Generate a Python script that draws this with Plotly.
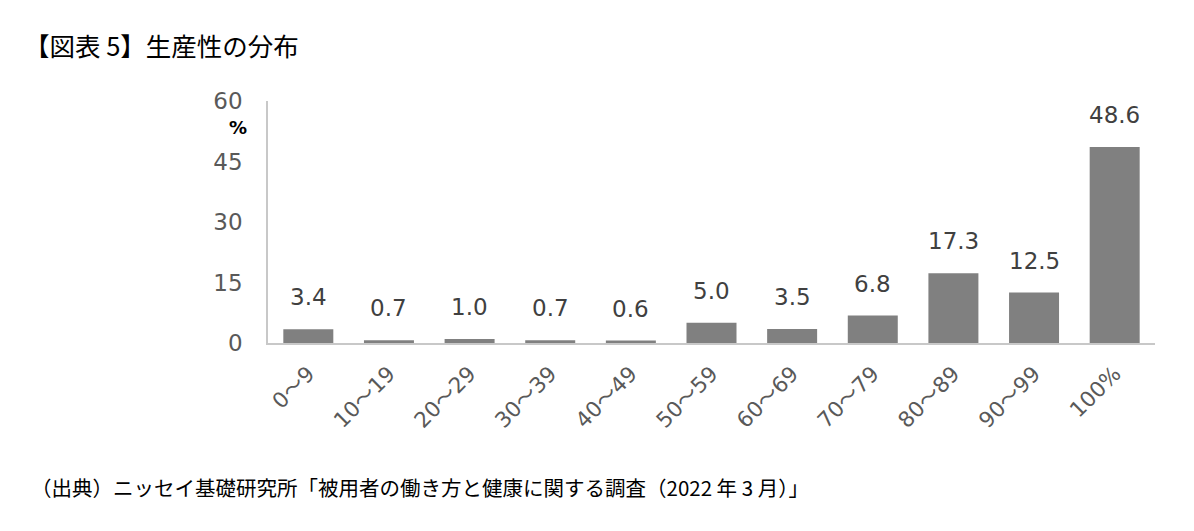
import plotly.graph_objects as go

categories = ["0～9", "10～19", "20～29", "30～39", "40～49", "50～59",
              "60～69", "70～79", "80～89", "90～99", "100%"]
values = [3.4, 0.7, 1.0, 0.7, 0.6, 5.0, 3.5, 6.8, 17.3, 12.5, 48.6]
y_ticks = [0, 15, 30, 45, 60]

title_text = "【図表 5】生産性の分布"
source_text = "（出典）ニッセイ基礎研究所「被用者の働き方と健康に関する調査（2022 年 3 月）」"

CJK = "Noto Sans CJK JP"
NUM = "DejaVu Sans, Noto Sans CJK JP"

# plot area: 887 x 242 px
PW, PH = 887.0, 242.0

fig = go.Figure(go.Bar(
    x=categories, y=values,
    marker=dict(color="#808080", line=dict(width=0)),
    hoverinfo="x+y",
))

label_annotations = [
    dict(x=c, y=v, xref="x", yref="y", text=f"{v:.1f}", showarrow=False,
         xanchor="center", yanchor="bottom", yshift=17,
         font=dict(family=NUM, size=23, color="#404040"))
    for c, v in zip(categories, values)
]

fig.update_layout(
    width=1194, height=531,
    paper_bgcolor="white", plot_bgcolor="white",
    # browser body margin (8px) compensated in margins
    margin=dict(l=260, r=47, t=93, b=196, autoexpand=False),
    bargap=0.38,
    showlegend=False,
    font=dict(family=CJK),
    xaxis=dict(
        showline=True, linecolor="#c8c8c8", linewidth=1.5,
        tickangle=-45, ticks="",
        ticklabelstandoff=8,
        tickfont=dict(family=NUM, size=21.5, color="#595959"),
        showgrid=False, automargin=False,
    ),
    yaxis=dict(
        range=[0, 60], tickvals=y_ticks,
        showline=True, linecolor="#c8c8c8", linewidth=1.5,
        showgrid=False, zeroline=False, ticks="",
        ticklabelstandoff=19, automargin=False,
        tickfont=dict(family=NUM, size=23, color="#595959"),
    ),
    annotations=label_annotations + [
        dict(text=title_text, xref="paper", yref="paper", x=-246 / PW, y=1 + 56 / PH,
             xanchor="left", yanchor="middle", showarrow=False,
             font=dict(family=CJK, size=25.5, color="#000000")),
        dict(text=source_text, xref="paper", yref="paper", x=-239 / PW, y=-144 / PH,
             xanchor="left", yanchor="middle", showarrow=False,
             font=dict(family=CJK, size=20.5, color="#000000")),
        dict(text="<b>%</b>", xref="paper", yref="paper", x=-19 / PW, y=1 - 27 / PH,
             xanchor="right", yanchor="middle", showarrow=False,
             font=dict(family=NUM, size=18, color="#000000")),
    ],
)

fig.write_html("out.html")
